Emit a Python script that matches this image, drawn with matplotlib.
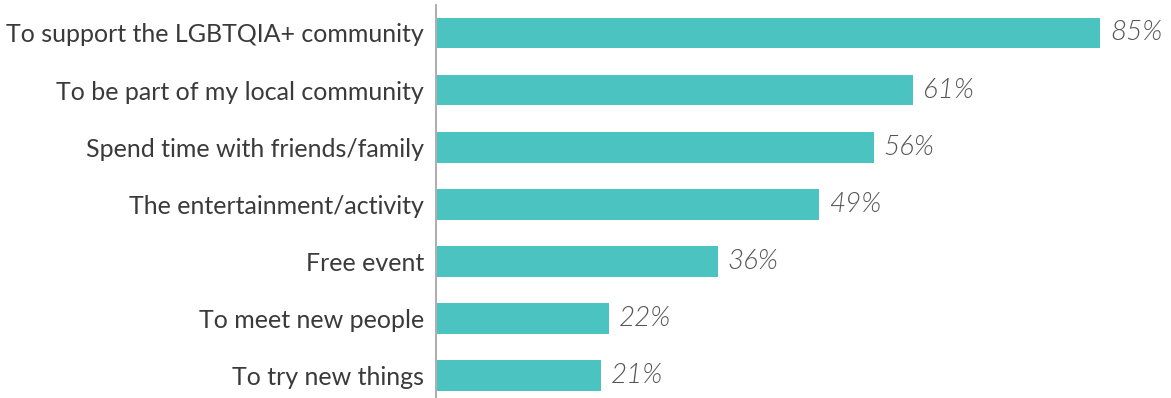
import matplotlib.pyplot as plt

reasons = [
    "To support the LGBTQIA+ community",
    "To be part of my local community",
    "Spend time with friends/family",
    "The entertainment/activity",
    "Free event",
    "To meet new people",
    "To try new things",
]
shares = [85, 61, 56, 49, 36, 22, 21]

fig = plt.figure(figsize=(11.71, 3.98), dpi=100)
ax = fig.add_axes([436 / 1171, 0, 1 - 436 / 1171, 393 / 398])

pos = list(range(len(reasons)))
ax.barh(pos, shares, height=0.54, color="#4bc3c0", left=0.15)
for p, v in zip(pos, shares):
    ax.text(v + 1.4, p, f"{v}%", va="center", ha="left", fontsize=20,
            family="Lato", style="italic", fontweight=300, color="#555555")

ax.set_xlim(0, 94.2)
ax.set_ylim(6.395, -0.49)
ax.set_yticks(pos)
ax.set_yticklabels(reasons, family="Lato", fontsize=18, color="#3a3a3a")
ax.tick_params(axis="y", length=0, pad=8.5)
ax.set_xticks([])
for s in ["top", "right", "bottom"]:
    ax.spines[s].set_visible(False)
ax.spines["left"].set_color("#a0a0a0")
ax.spines["left"].set_linewidth(1.2)

fig.savefig("out.png", dpi=100)
